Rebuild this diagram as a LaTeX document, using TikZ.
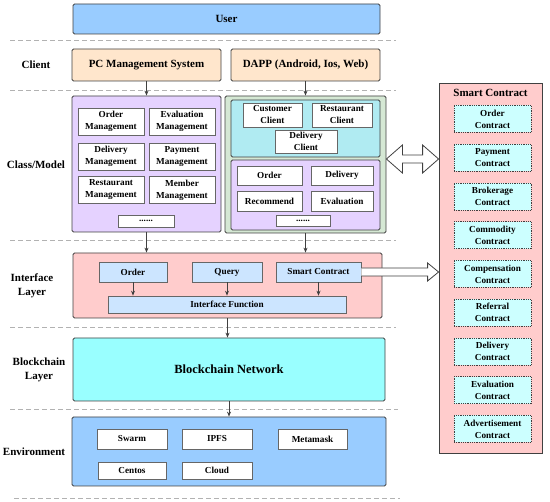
\documentclass[tikz,border=0pt]{standalone}
\usepackage{fontspec}
\setmainfont{Liberation Serif}
\usetikzlibrary{arrows.meta,calc}
\definecolor{cuser}{HTML}{99CCFF}
\definecolor{cpeach}{HTML}{FFE6CC}
\definecolor{cpurple}{HTML}{E5D2FF}
\definecolor{cgreen}{HTML}{D5E8D4}
\definecolor{ccyan}{HTML}{B0EBF2}
\definecolor{cpink}{HTML}{FFCCCC}
\definecolor{cibox}{HTML}{CCE5FF}
\definecolor{cbc}{HTML}{99FFFF}
\definecolor{ccon}{HTML}{CCFFFF}
\definecolor{cline}{HTML}{404040}
\begin{document}
\begin{tikzpicture}[x=1pt,y=-1pt,
  font=\bfseries,
  big/.style={font=\fontsize{11}{14}\selectfont\bfseries},
  small/.style={font=\fontsize{9.2}{12}\selectfont\bfseries},
  panelbox/.style={draw=cline,line width=0.8pt,rounded corners=1.5pt,inner sep=0pt},
  wbox/.style={draw=gray!80!black,fill=white,line width=0.6pt,inner sep=0pt,align=center,small},
  ibox/.style={draw=gray!80!black,fill=cibox,line width=0.6pt,inner sep=0pt,align=center,small},
  cbox/.style={draw=cline,fill=ccon,densely dotted,line width=0.8pt,inner sep=0pt,align=center,small,minimum width=77pt,minimum height=27pt},
  lbl/.style={big,align=center},
  arr/.style={-{Stealth[length=5pt,width=4pt]},draw=cline,line width=0.8pt},
  sep/.style={draw=gray!60,dash pattern=on 5pt off 3pt,line width=0.6pt}
]
\useasboundingbox (0,0) rectangle (550,502);

% separators
\draw[sep] (10,40) -- (396,40);
\draw[sep] (10,90) -- (396,90);
\draw[sep] (10,240) -- (396,240);
\draw[sep] (10,327) -- (396,327);
\draw[sep] (10,409) -- (398,409);
\draw[sep] (14,498) -- (400,498);

% layer labels
\node[lbl] (lclient) at (36,65) {Client};
\node[lbl] (lclass) at (36,165) {Class/Model};
\node[lbl] (linter) at (32,286) {Interface\\Layer};
\node[lbl] (lbc) at (39,370) {Blockchain\\Layer};
\node[lbl] (lenv) at (34,452) {Environment};

% user and client
\node[panelbox,fill=cuser,big,minimum width=307pt,minimum height=30pt] (user) at (226.5,19) {User};
\node[panelbox,fill=cpeach,big,minimum width=149pt,minimum height=32pt] (pc) at (146.5,65) {PC Management System};
\node[panelbox,fill=cpeach,big,minimum width=149pt,minimum height=32pt] (dapp) at (305.5,65) {DAPP (Android, Ios, Web)};

% class/model left
\node[panelbox,fill=cpurple,minimum width=149pt,minimum height=136pt] (cls) at (146.5,164) {};
\node[wbox,minimum width=66pt,minimum height=27pt] (om) at (111,121.5) {Order\\Management};
\node[wbox,minimum width=66pt,minimum height=27pt] (em) at (182,121.5) {Evaluation\\Management};
\node[wbox,minimum width=66pt,minimum height=27pt] (dm) at (111,156.5) {Delivery\\Management};
\node[wbox,minimum width=66pt,minimum height=27pt] (pm) at (182,156.5) {Payment\\Management};
\node[wbox,minimum width=66pt,minimum height=27pt] (rm) at (111,190) {Restaurant\\Management};
\node[wbox,minimum width=66pt,minimum height=27pt] (mm) at (182,190) {Member\\Management};
\node[wbox,minimum width=56pt,minimum height=12pt] (d1) at (146,221) {......};

% class/model right
\node[panelbox,fill=cgreen,minimum width=161pt,minimum height=137pt] (grn) at (305.5,164.5) {};
\node[panelbox,fill=ccyan,minimum width=149pt,minimum height=57pt] (cyn) at (305.5,128.5) {};
\node[wbox,minimum width=59pt,minimum height=24pt] (cc) at (272.5,115) {Customer\\Client};
\node[wbox,minimum width=60pt,minimum height=24pt] (rc) at (342,115) {Restaurant\\Client};
\node[wbox,minimum width=62pt,minimum height=23pt] (dc) at (306,141.5) {Delivery\\Client};
\node[panelbox,fill=cpurple,minimum width=149pt,minimum height=70pt] (pur) at (305.5,195) {};
\node[wbox,minimum width=65pt,minimum height=19pt] (o2) at (269.5,175.5) {Order};
\node[wbox,minimum width=62pt,minimum height=19pt] (dl2) at (342,175.5) {Delivery};
\node[wbox,minimum width=65pt,minimum height=20pt] (rec) at (269.5,201) {Recommend};
\node[wbox,minimum width=62pt,minimum height=20pt] (ev2) at (342,201) {Evaluation};
\node[wbox,minimum width=54pt,minimum height=11pt] (d2) at (303,220.5) {......};

% interface layer
\node[panelbox,fill=cpink,minimum width=309pt,minimum height=65pt] (itf) at (227.5,285.5) {};
\node[ibox,minimum width=68pt,minimum height=20pt] (io) at (133,272) {Order};
\node[ibox,minimum width=70pt,minimum height=20pt] (iq) at (227,272) {Query};
\node[ibox,minimum width=85pt,minimum height=20pt] (isc) at (318.5,272) {Smart Contract};
\node[ibox,minimum width=238pt,minimum height=17pt] (ifn) at (227,304.5) {Interface Function};

% blockchain
\node[panelbox,fill=cbc,font=\fontsize{12.5}{15}\selectfont\bfseries,minimum width=312pt,minimum height=63pt] (bc) at (229,369.5) {Blockchain Network};

% environment
\node[panelbox,fill=cuser,minimum width=314pt,minimum height=69pt] (env) at (229,451.5) {};
\node[wbox,minimum width=70pt,minimum height=20pt] (sw) at (132,439) {Swarm};
\node[wbox,minimum width=70pt,minimum height=20pt] (ip) at (217,439) {IPFS};
\node[wbox,minimum width=69pt,minimum height=20pt] (mt) at (312.5,439) {Metamask};
\node[wbox,minimum width=68pt,minimum height=17pt] (ce) at (132,470.5) {Centos};
\node[wbox,minimum width=70pt,minimum height=17pt] (cl) at (217,470.5) {Cloud};

% smart contract panel
\node[draw=cline,fill=cpink,line width=0.8pt,minimum width=103pt,minimum height=370pt,inner sep=0pt] (sc) at (490.5,268) {};
\node[big] (sct) at (490.5,93) {Smart Contract};
\node[cbox] (c1) at (492.5,119) {Order\\Contract};
\node[cbox] (c2) at (492.5,157.75) {Payment\\Contract};
\node[cbox] (c3) at (492.5,196.5) {Brokerage\\Contract};
\node[cbox] (c4) at (492.5,235.25) {Commodity\\Contract};
\node[cbox] (c5) at (492.5,274) {Compensation\\Contract};
\node[cbox] (c6) at (492.5,312.75) {Referral\\Contract};
\node[cbox] (c7) at (492.5,351.5) {Delivery\\Contract};
\node[cbox] (c8) at (492.5,390.25) {Evaluation\\Contract};
\node[cbox] (c9) at (492.5,429) {Advertisement\\Contract};

% arrows
\draw[arr] (pc.south) -- (pc.south |- cls.north);
\draw[arr] (dapp.south) -- (dapp.south |- grn.north);
\draw[arr] (cls.south) -- (cls.south |- itf.north);
\draw[arr] (grn.south) -- (grn.south |- itf.north);
\draw[arr] (io.south) -- (io.south |- ifn.north);
\draw[arr] (iq.south) -- (iq.south |- ifn.north);
\draw[arr] (isc.south) -- (isc.south |- ifn.north);
\draw[arr] (itf.south) -- (itf.south |- bc.north);
\draw[arr] ($(bc.south)+(0,0)$) -- (bc.south |- env.north);

% double block arrow
\coordinate (dal) at ($(grn.east)+(0,-5.5)$);
\coordinate (dar) at (sc.west |- dal);
\draw[cline,fill=white,line width=0.8pt,line join=miter]
  (dal) -- ($(dal)+(16,-14)$) -- ($(dal)+(16,-4)$) -- ($(dar)+(-16,-4)$) -- ($(dar)+(-16,-14)$)
  -- (dar) -- ($(dar)+(-16,14)$) -- ($(dar)+(-16,4)$) -- ($(dal)+(16,4)$) -- ($(dal)+(16,14)$) -- cycle;

% single block arrow
\coordinate (sar) at (sc.west |- isc.east);
\draw[cline,fill=white,line width=0.8pt,line join=miter]
  ($(isc.east)+(0,-4)$) -- ($(sar)+(-11,-4)$) -- ($(sar)+(-11,-9)$) -- (sar)
  -- ($(sar)+(-11,9)$) -- ($(sar)+(-11,4)$) -- ($(isc.east)+(0,4)$);
\end{tikzpicture}
\end{document}
